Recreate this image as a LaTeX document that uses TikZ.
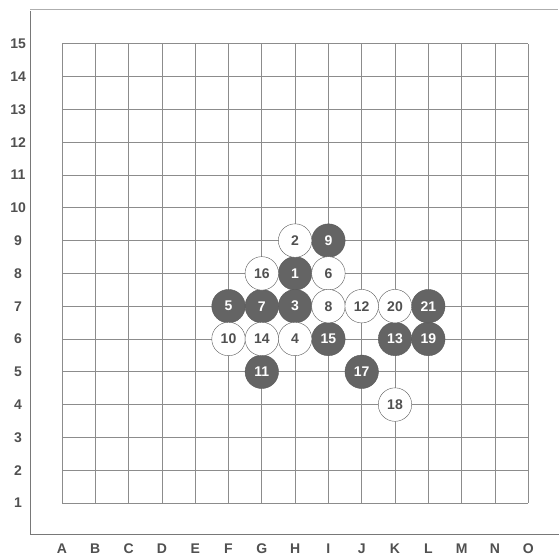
\documentclass[tikz,border=0pt]{standalone}
\usepackage{fontspec}
\setmainfont{Liberation Sans}
\usepackage{tikz}
\definecolor{GoGrid}{RGB}{140,140,140}
\definecolor{GoFrame}{RGB}{120,120,120}
\definecolor{GoStone}{RGB}{100,100,100}
\definecolor{GoEdge}{RGB}{90,90,90}
\definecolor{GoLabel}{RGB}{80,80,80}
\tikzset{
  pedrapreta/.style={circle, draw=GoEdge, fill=GoStone, minimum size=33.5pt, inner sep=0pt,
                text=white, font=\fontsize{14}{14}\selectfont\bfseries},
  pedrabranca/.style={circle, draw=GoEdge, fill=white, minimum size=33.5pt, inner sep=0pt,
                text=GoLabel, font=\fontsize{14}{14}\selectfont\bfseries},
  rotulo/.style={font=\fontsize{14}{14}\selectfont\bfseries, text=GoLabel, inner sep=0pt},
  linha/.style={GoGrid, line width=0.8pt},
}

\begin{document}
\begin{tikzpicture}[x=33.3pt, y=32.8pt]
  \useasboundingbox (-0.862,-0.646) rectangle (15.925,16.335);

  % ------------------------------------------------------------------ moldura
  \draw[GoFrame, line width=0.9pt] (0.04,16.0) -- (0.04,0.05) -- (15.925,0.05);
  \draw[GoFrame!60, line width=0.7pt] (0.04,16.06) -- (15.9,16.06);

  % ------------------------------------------------------------------ tabuleiro 15x15
  \foreach \i in {1,...,15}{
    \draw[linha] (\i,1) -- (\i,15);
    \draw[linha] (1,\i) -- (15,\i);
  }

  % coordenadas: letras embaixo, numeros a esquerda
  \foreach \l [count=\i] in {A,B,C,D,E,F,G,H,I,J,K,L,M,N,O}{
    \node[rotulo] (col\i) at (\i,-0.40) {\l};
  }
  \foreach \i in {1,...,15}{
    \node[rotulo] (lin\i) at (-0.32,\i) {\i};
  }

  % ------------------------------------------------------------------ pedras (numero/coluna/linha)
  \foreach \n/\c/\r in {1/8/8, 3/8/7, 5/6/7, 7/7/7, 9/9/9, 11/7/5, 13/11/6,
                        15/9/6, 17/10/5, 19/12/6, 21/12/7}{
    \node[pedrapreta] (s\n) at (\c,\r) {\n};
  }
  \foreach \n/\c/\r in {2/8/9, 4/8/6, 6/9/8, 8/9/7, 10/6/6, 12/10/7, 14/7/6,
                        16/7/8, 18/11/4, 20/11/7}{
    \node[pedrabranca] (s\n) at (\c,\r) {\n};
  }
\end{tikzpicture}
\end{document}
